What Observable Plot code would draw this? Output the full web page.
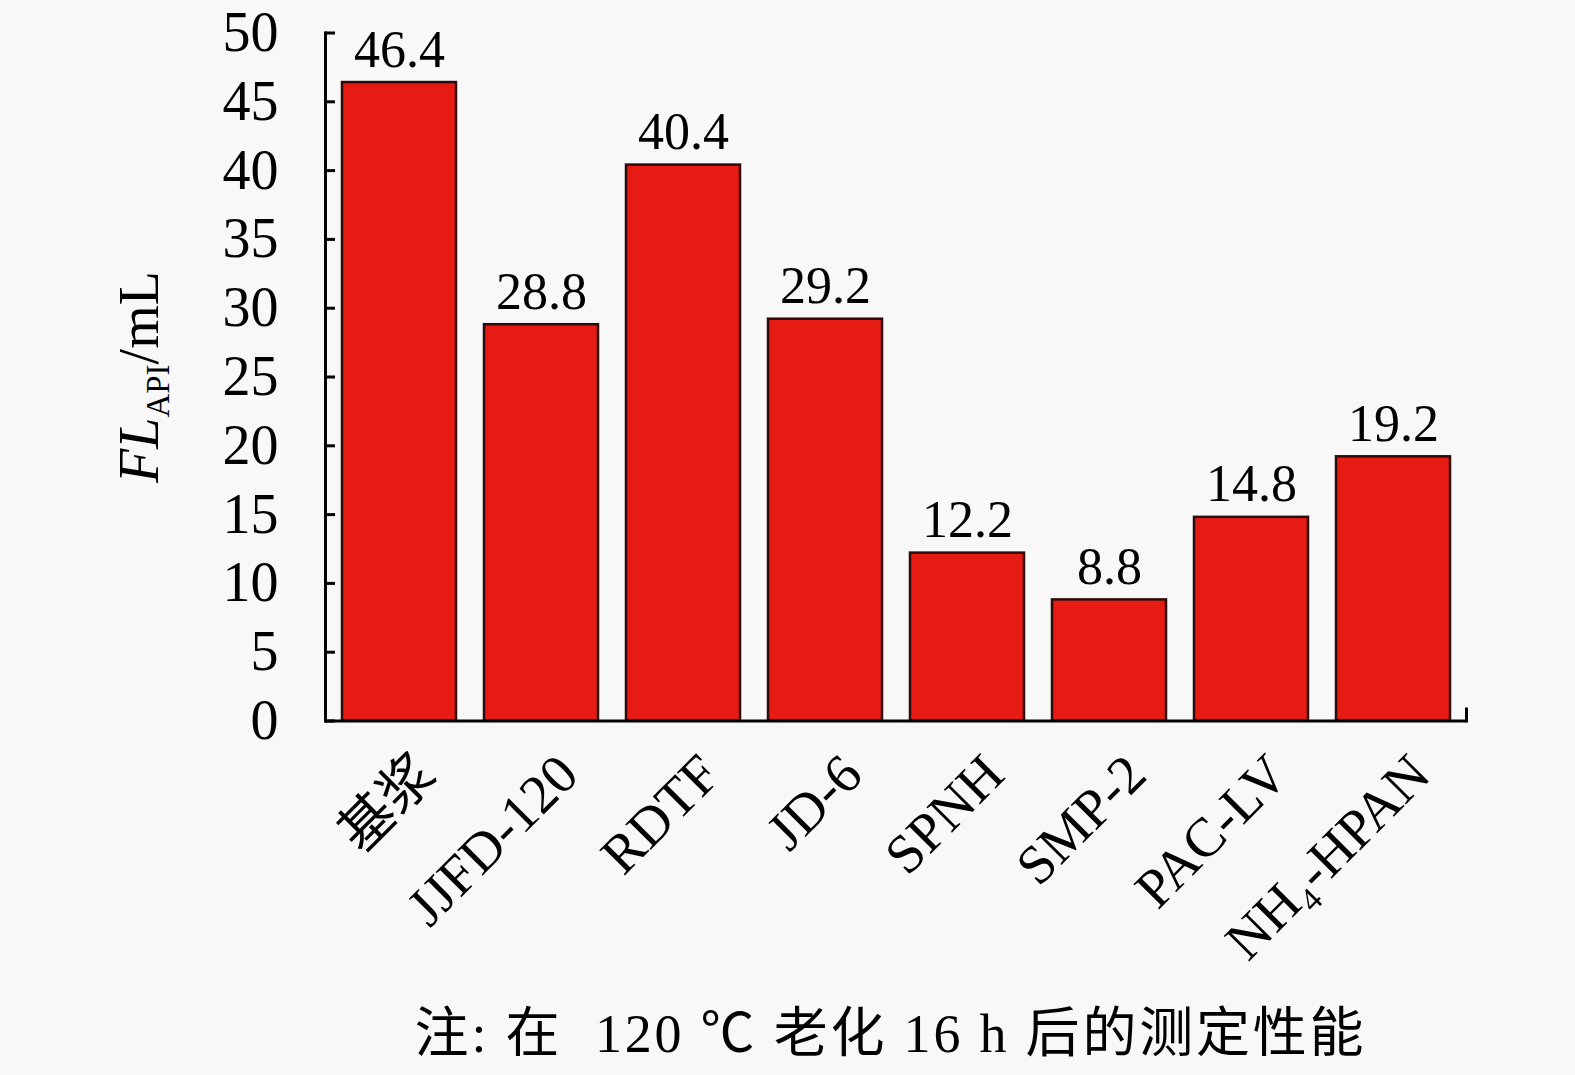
<!DOCTYPE html>
<html>
<head>
<meta charset="utf-8">
<script src="https://cdn.jsdelivr.net/npm/d3@7"></script>
<script src="https://cdn.jsdelivr.net/npm/@observablehq/plot@0.6"></script>
<style>
  html, body { margin: 0; padding: 0; background: #f8f8f8; }
  #caption {
    width: 1575px; box-sizing: border-box; padding-left: 206px;
    text-align: center; height: 85px; line-height: 88px; white-space: pre;
    font-family: "Liberation Serif", "Noto Sans CJK SC", serif; font-size: 54px; color: #000;
    letter-spacing: 2.8px;
  }
</style>
</head>
<body>
<div id="chart"></div>
<div id="caption">注: 在  120 ℃ 老化 16 h 后的测定性能</div>
<script>
const categories = ["基浆", "JJFD-120", "RDTF", "JD-6", "SPNH", "SMP-2", "PAC-LV", "NH₄-HPAN"];
const values = [46.4, 28.8, 40.4, 29.2, 12.2, 8.8, 14.8, 19.2];
const yTicks = [0, 5, 10, 15, 20, 25, 30, 35, 40, 45, 50];

const data = categories.map((c, i) => ({cat: c, value: values[i]}));
const font = "'Liberation Serif', 'Noto Sans CJK SC', serif";

const chart = Plot.plot({
  width: 1575,
  height: 990,
  marginLeft: 325,
  marginRight: 109,
  marginTop: 32.5,
  marginBottom: 269.5,
  style: {background: "#f8f8f8", fontFamily: font, fontSize: "54px", color: "#000", overflow: "visible"},
  x: {domain: categories, paddingInner: 0.2, paddingOuter: 0.1},
  y: {domain: [0, 50]},
  marks: [
    Plot.barY(data, {x: "cat", y: "value", fill: "#e61b14", stroke: "#2b0b0b", strokeWidth: 2.5}),
    Plot.text(data, {x: "cat", y: "value", text: d => d.value.toFixed(1), lineAnchor: "bottom", dy: -16, fontSize: 52}),
    Plot.axisY({ticks: yTicks, tickSize: -10, tickPadding: 57, strokeWidth: 3, fontSize: 56,
      label: "FLAPI/mL", labelAnchor: "center", labelArrow: "none", labelOffset: 207}),
    Plot.axisX({tickSize: 0, tickRotate: -45, tickPadding: 44, fontSize: 55, label: null, dx: 27}),
    Plot.ruleY([0], {strokeWidth: 3}),
    Plot.frame({anchor: "left", strokeWidth: 3}),
    Plot.frame({anchor: "right", strokeWidth: 3, insetTop: 676})
  ]
});
document.getElementById("chart").appendChild(chart);

// rich y-axis label: italic FL with subscript API
const lab = d3.select(chart).select('g[aria-label="y-axis label"] text');
if (!lab.empty()) {
  lab.attr("font-size", 56);
  lab.text(null);
  lab.append("tspan").attr("font-style", "italic").text("FL");
  lab.append("tspan").attr("font-size", "33px").attr("dy", "11").text("API");
  lab.append("tspan").attr("dy", "-11").text("/mL");
}
</script>
</body>
</html>
